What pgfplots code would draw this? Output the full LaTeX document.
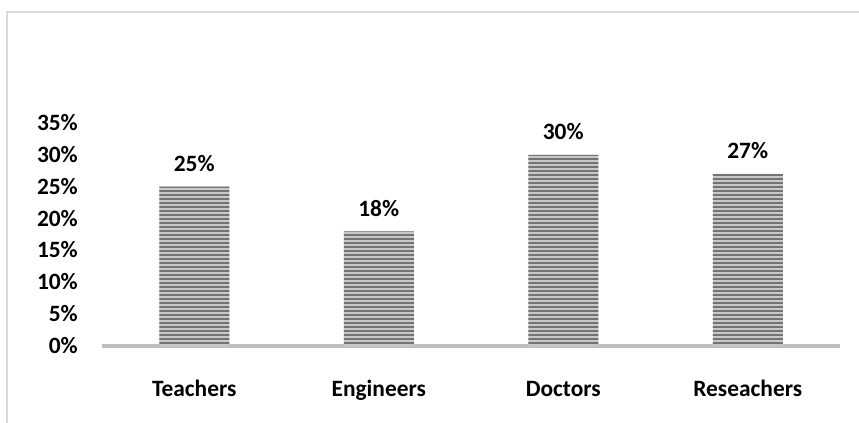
\documentclass[border=0pt]{standalone}
\usepackage{pgfplots}
\pgfplotsset{compat=1.18}
\usepackage{fontspec}
\setmainfont{Carlito}
\usetikzlibrary{patterns.meta}
\definecolor{framegray}{RGB}{217,217,217}
\definecolor{axisgray}{RGB}{191,191,191}
\definecolor{barlight}{RGB}{200,200,200}
\definecolor{bardark}{RGB}{115,115,115}
\begin{document}
\begin{tikzpicture}
\useasboundingbox (0,0) rectangle (859bp,423bp);
\draw[framegray, line width=1.5bp] (7bp,0) -- (7bp,411bp) -- (859bp,411bp);
\begin{axis}[
  scale only axis,
  at={(102bp,77bp)}, anchor=south west,
  width=738bp, height=223bp,
  xmin=-0.5, xmax=3.5,
  ymin=0, ymax=35,
  clip=false,
  axis x line*=bottom,
  axis y line*=left,
  y axis line style={draw=none},
  x axis line style={axisgray, line width=3bp, -},
  xtick={0,1,2,3},
  xticklabels={Teachers,Engineers,Doctors,Reseachers},
  xtick style={draw=none},
  x tick label style={anchor=base, yshift=-46bp, font=\fontsize{23.5}{28}\selectfont\bfseries},
  ytick={0,5,10,15,20,25,30,35},
  yticklabels={0\%,5\%,10\%,15\%,20\%,25\%,30\%,35\%},
  ytick style={draw=none},
  y tick label style={anchor=base east, inner sep=0pt, xshift=-24bp, yshift=-7.5bp, font=\fontsize{23.5}{28}\selectfont\bfseries},
  ybar, bar width=70bp,
  /pgf/number format/assume math mode=true,
  nodes near coords={\pgfmathprintnumber{\pgfplotspointmeta}\%},
  every node near coord/.append style={anchor=base, yshift=15bp, font=\fontsize{23.5}{28}\selectfont\bfseries, black},
]
\addplot[draw=none, fill=barlight,
  postaction={pattern={Lines[angle=0,distance=4bp,line width=1.6bp]}, pattern color=bardark}]
  coordinates {(0,25) (1,18) (2,30) (3,27)};
\end{axis}
\end{tikzpicture}
\end{document}
